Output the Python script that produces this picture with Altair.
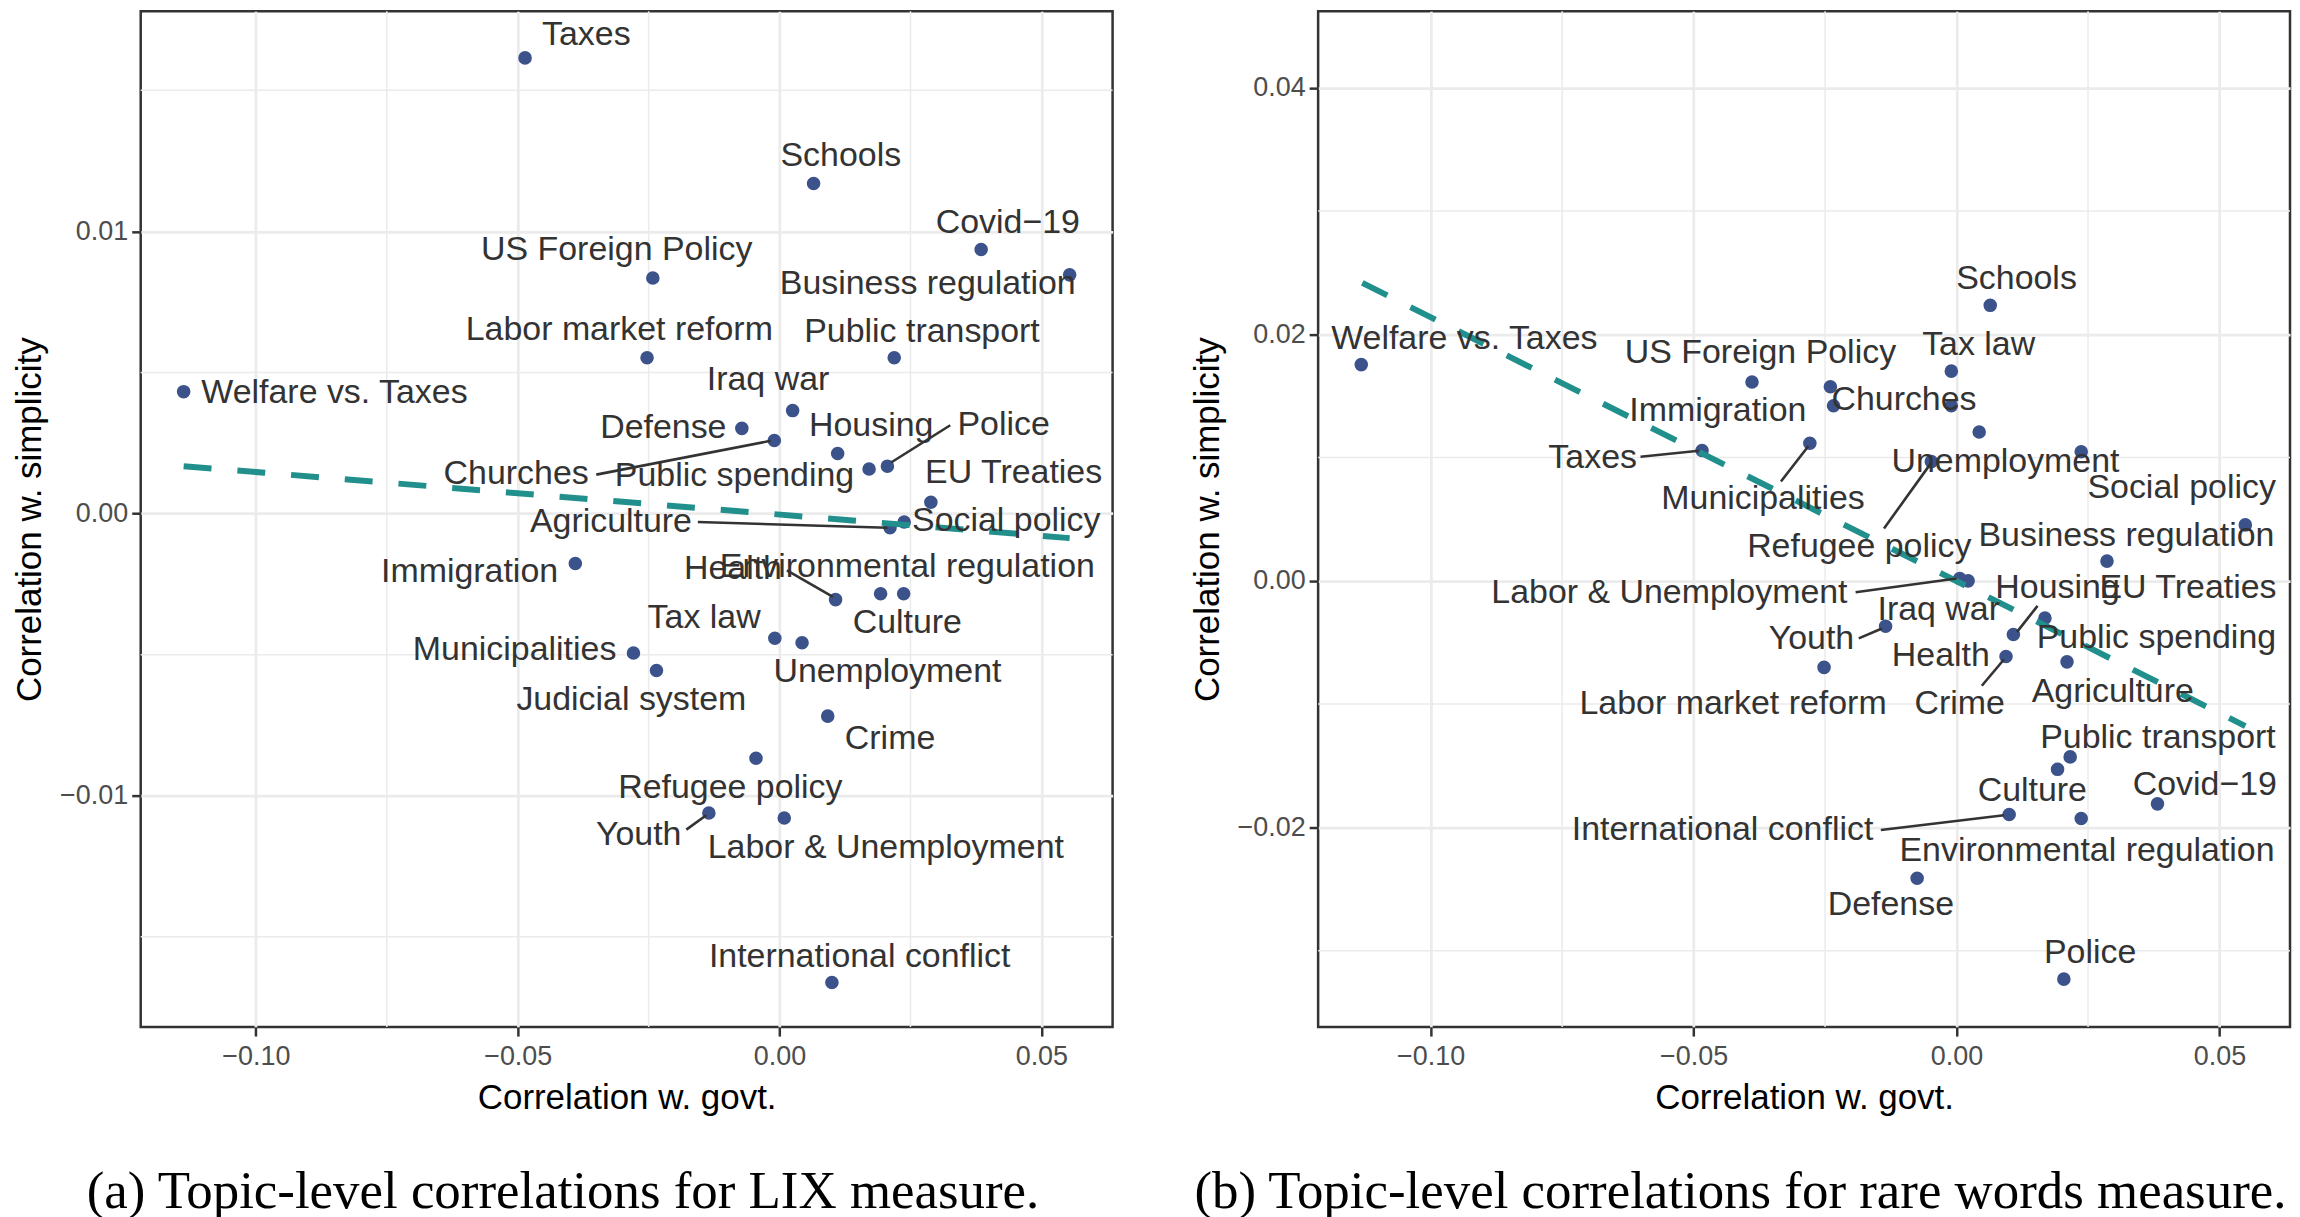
import altair as alt
import pandas as pd

# topic order shared by both panels
topics = ['Taxes', 'Schools', 'Covid\u221219', 'Business regulation', 'US Foreign Policy',
          'Labor market reform', 'Public transport', 'Welfare vs. Taxes', 'Iraq war', 'Defense',
          'Churches', 'Housing', 'Public spending', 'Police', 'EU Treaties',
          'Social policy', 'Agriculture', 'Immigration', 'Health', 'Environmental regulation',
          'Culture', 'Tax law', 'Unemployment', 'Municipalities', 'Judicial system',
          'Crime', 'Refugee policy', 'Youth', 'Labor & Unemployment', 'International conflict']

# (a) LIX measure
lix_govt = [-0.0486, 0.0065, 0.0385, 0.0554, -0.0242,
            -0.0253, 0.0219, -0.1138, 0.0025, -0.0072,
            -0.0010, 0.0111, 0.0171, 0.0206, 0.0289,
            0.0238, 0.0211, -0.0390, 0.0107, 0.0237,
            0.0193, -0.0009, 0.0043, -0.0279, -0.0235,
            0.0092, -0.0045, -0.0135, 0.0009, 0.0100]
lix_simp = [0.01615, 0.01170, 0.00936, 0.00846, 0.00835,
            0.00552, 0.00552, 0.00432, 0.00365, 0.00302,
            0.00259, 0.00213, 0.00158, 0.00168, 0.00040,
            -0.00030, -0.00050, -0.00177, -0.00305, -0.00284,
            -0.00284, -0.00442, -0.00458, -0.00494, -0.00556,
            -0.00718, -0.00867, -0.01061, -0.01079, -0.01662]
lix_label_x = [-0.0369, 0.0117, 0.0436, 0.0283, -0.0311,
               -0.0306, 0.0272, -0.0850, -0.0022, -0.0222,
               -0.0503, 0.0175, -0.0086, 0.0428, 0.0447,
               0.0433, -0.0322, -0.0592, -0.0089, 0.0244,
               0.0244, -0.0144, 0.0206, -0.0506, -0.0283,
               0.0211, -0.0094, -0.0269, 0.0203, 0.0153]
lix_label_y = [0.01696, 0.01268, 0.01031, 0.00814, 0.00933,
               0.00649, 0.00644, 0.00428, 0.00474, 0.00304,
               0.00139, 0.00309, 0.00134, 0.00314, 0.00144,
               -0.00026, -0.00031, -0.00206, -0.00196, -0.00191,
               -0.00387, -0.00371, -0.00562, -0.00485, -0.00660,
               -0.00799, -0.00974, -0.01139, -0.01186, -0.01572]
# leader lines (label end -> point)
lix_seg_x = [-0.0350, 0.0326, -0.0156, 0.0014, -0.0178]
lix_seg_y = [0.00138, 0.00313, -0.00030, -0.00201, -0.01120]
lix_seg_x2 = [-0.0017, 0.0213, 0.0206, 0.0102, -0.0140]
lix_seg_y2 = [0.00258, 0.00181, -0.00050, -0.00295, -0.01069]
lix_fit_x = [-0.1138, 0.0554]
lix_fit_y = [0.00168, -0.00087]

# (b) rare words measure (Judicial system has no visible label there)
rare_topics = [t for t in topics if t != 'Judicial system']
rare_govt = [-0.0484, 0.0064, 0.0382, 0.0549, -0.0389,
             -0.0252, 0.0216, -0.1132, 0.0022, -0.0075,
             -0.0240, 0.0108, 0.0168, 0.0204, 0.0286,
             0.0237, 0.0210, -0.0234, -0.0010, 0.0237,
             0.0192, -0.0010, 0.0043, -0.0279,
             0.0094, -0.0048, -0.0135, 0.0006, 0.0100]
rare_simp = [0.01057, 0.02235, -0.01809, 0.00454, 0.01613,
             -0.00702, -0.01428, 0.01754, 0.00000, -0.02412,
             0.01575, -0.00435, -0.00302, -0.03231, 0.00160,
             0.01047, -0.00657, 0.01420, 0.01420, -0.01928,
             -0.01529, 0.01701, 0.01207, 0.01116,
             -0.00614, 0.00967, -0.00368, 0.00019, -0.01896]
rare_label_x = [-0.0692, 0.0114, 0.0472, 0.0323, -0.0373,
                -0.0425, 0.0383, -0.0936, -0.0034, -0.0125,
                -0.0100, 0.0192, 0.0380, 0.0254, 0.0440,
                0.0428, 0.0297, -0.0454, -0.0030, 0.0248,
                0.0144, 0.0042, 0.0093, -0.0368,
                0.0006, -0.0185, -0.0276, -0.0546, -0.0445]
rare_label_y = [0.00993, 0.02449, -0.01657, 0.00366, 0.01848,
                -0.00997, -0.01277, 0.01965, -0.00235, -0.02633,
                0.01466, -0.00061, -0.00462, -0.03019, -0.00061,
                0.00753, -0.00904, 0.01380, -0.00609, -0.02194,
                -0.01702, 0.01915, 0.00967, 0.00660,
                -0.00997, 0.00272, -0.00475, -0.00101, -0.02021]
rare_seg_x = [-0.0601, -0.0334, -0.0138, -0.0192, 0.0154, -0.0186, 0.0048, -0.0144]
rare_seg_y = [0.01007, 0.00806, 0.00425, -0.00093, -0.00203, -0.00467, -0.00851, -0.02021]
rare_seg_x2 = [-0.0490, -0.0282, -0.0048, 0.0000, 0.0115, -0.0142, 0.0090, 0.0090]
rare_seg_y2 = [0.01055, 0.01092, 0.00959, 0.00019, -0.00414, -0.00387, -0.00638, -0.01902]
rare_fit_x = [-0.1130, 0.0549]
rare_fit_y = [0.02417, -0.01178]

GRID = '#EBEBEB'
W, H = 974, 1018


def panel(names, gx, sy, lx, ly, sx, sy1, sx2, sy2, fx, fy,
          xdom, ydom, xmajor, xminor, ymajor, yminor, caption):
    xs = alt.Scale(domain=xdom, nice=False, zero=False)
    ys = alt.Scale(domain=ydom, nice=False, zero=False)
    X = alt.X('x:Q', scale=xs, title='Correlation w. govt.',
              axis=alt.Axis(values=xmajor, format='.2f', grid=True))
    Y = alt.Y('y:Q', scale=ys, title='Correlation w. simplicity',
              axis=alt.Axis(values=ymajor, format='.2f', grid=True))

    vgrid = alt.Chart(pd.DataFrame({'x': xminor})).mark_rule(
        color=GRID, strokeWidth=1.5).encode(x=X)
    hgrid = alt.Chart(pd.DataFrame({'y': yminor})).mark_rule(
        color=GRID, strokeWidth=1.5).encode(y=Y)
    pts = alt.Chart(pd.DataFrame({'topic': names, 'x': gx, 'y': sy})).mark_circle(
        size=185, color='#3B528B', opacity=1).encode(x=X, y=Y, tooltip=['topic:N'])
    fit = alt.Chart(pd.DataFrame({'x': fx, 'y': fy})).mark_line(
        color='#21908C', strokeWidth=6, strokeDash=[28, 26]).encode(x=X, y=Y)
    segs = alt.Chart(pd.DataFrame({'x': sx, 'y': sy1, 'x2': sx2, 'y2': sy2})).mark_rule(
        color='#333333', strokeWidth=2.6).encode(x=X, y=Y, x2='x2:Q', y2='y2:Q')
    labels = alt.Chart(pd.DataFrame({'topic': names, 'x': lx, 'y': ly})).mark_text(
        font='Liberation Sans', fontSize=34, color='#333333',
        align='center', baseline='middle').encode(x=X, y=Y, text='topic:N')

    return alt.layer(vgrid, hgrid, pts, fit, segs, labels).properties(
        width=W, height=H,
        title=alt.TitleParams(text=caption, orient='bottom', anchor='middle', frame='bounds',
                              font='Liberation Serif', fontSize=53, fontWeight='normal',
                              color='black', offset=50))


left = panel(topics, lix_govt, lix_simp, lix_label_x, lix_label_y,
             lix_seg_x, lix_seg_y, lix_seg_x2, lix_seg_y2, lix_fit_x, lix_fit_y,
             [-0.122, 0.0636], [-0.0182, 0.0178],
             [-0.10, -0.05, 0.0, 0.05], [-0.075, -0.025, 0.025],
             [-0.01, 0.0, 0.01], [-0.015, -0.005, 0.005, 0.015],
             '(a) Topic-level correlations for LIX measure.')
right = panel(rare_topics, rare_govt, rare_simp, rare_label_x, rare_label_y,
              rare_seg_x, rare_seg_y, rare_seg_x2, rare_seg_y2, rare_fit_x, rare_fit_y,
              [-0.1214, 0.0634], [-0.0362, 0.0462],
              [-0.10, -0.05, 0.0, 0.05], [-0.075, -0.025, 0.025],
              [-0.02, 0.0, 0.02, 0.04], [-0.03, -0.01, 0.01, 0.03],
              '(b) Topic-level correlations for rare words measure.')

chart = alt.hconcat(left, right, spacing=74).properties(
    padding={'left': 3, 'top': 0, 'right': 0, 'bottom': 0},
    background='white'
).configure_view(
    stroke='#333333', strokeWidth=2.5
).configure_axis(
    domain=False,
    gridColor=GRID, gridWidth=2.7,
    tickColor='#333333', tickSize=9, tickWidth=2.5,
    labelFont='Liberation Sans', labelFontSize=27, labelColor='#4D4D4D', labelPadding=4,
    titleFont='Liberation Sans', titleFontSize=35, titleFontWeight='normal',
    titleColor='black', titlePadding=12
).configure_axisX(
    labelPadding=7
)

chart.save('out.html', embed_options={'renderer': 'svg', 'actions': False})
